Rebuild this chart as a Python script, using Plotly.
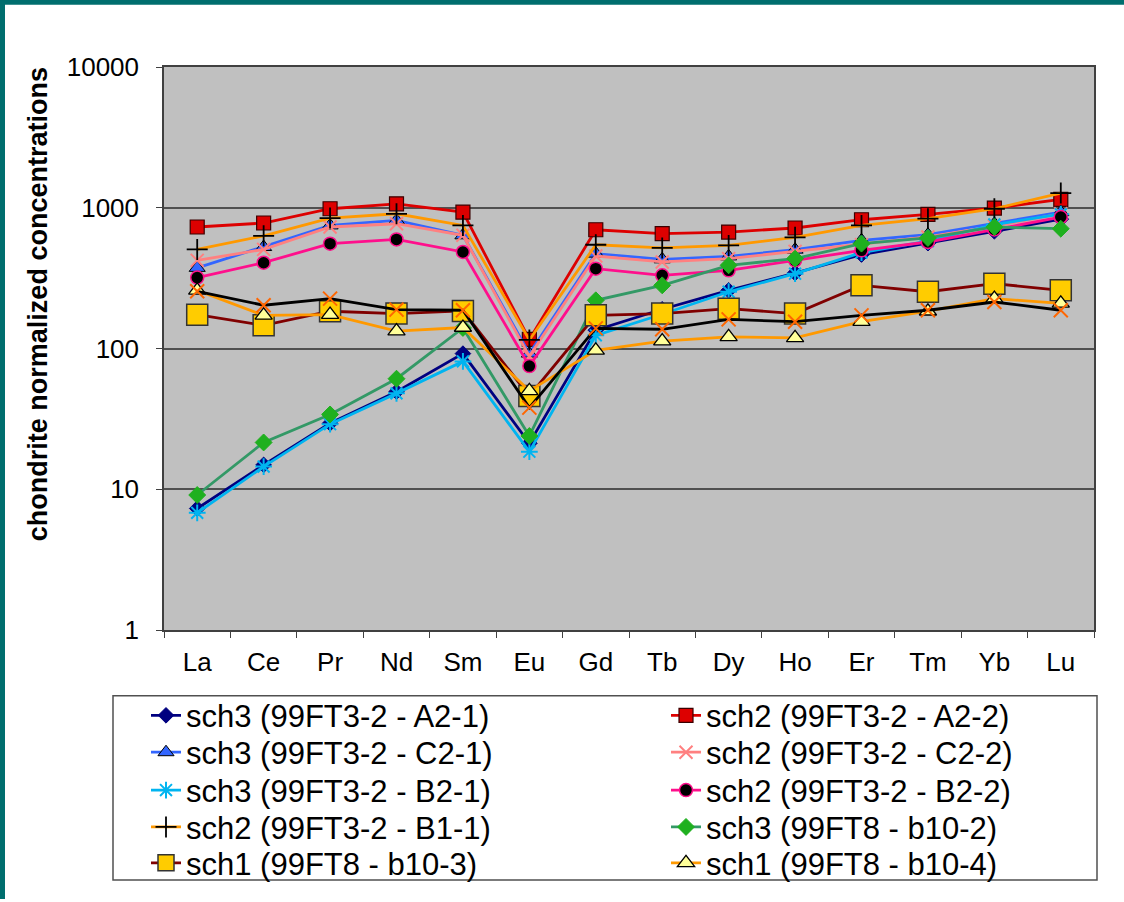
import plotly.graph_objects as go

# Rare earth elements (x axis categories)
elements = ["La", "Ce", "Pr", "Nd", "Sm", "Eu", "Gd", "Tb", "Dy", "Ho", "Er", "Tm", "Yb", "Lu"]

# Chondrite-normalized concentrations per analysis
sch3_A2_1 = [7.3, 14.9, 29.4, 49.3, 92, 21.2, 135, 190, 259, 344, 465, 560, 680, 830]
sch2_A2_2 = [730, 779, 984, 1067, 931, 116, 698, 654, 672, 718, 822, 897, 995, 1145]
sch3_C2_1 = [374, 526, 749, 813, 637, 92, 472, 430, 451, 504, 587, 644, 770, 931]
sch2_C2_2 = [423, 506, 730, 770, 637, 88, 454, 412, 435, 490, 547, 620, 740, 906]
sch3_B2_1 = [6.8, 14.5, 29, 48, 81, 18.5, 124, 175, 253, 340, 480, 580, 760, 900]
sch2_B2_2 = [319, 407, 556, 596, 485, 75, 369, 331, 359, 423, 498, 571, 702, 859]
sch2_B1_1 = [506, 632, 845, 906, 749, 115, 546, 518, 540, 616, 749, 836, 984, 1271]
sch3_b10_2 = [9.1, 21.5, 34, 61, 140, 23.9, 220, 281, 390, 435, 556, 610, 730, 710]
sch1_b10_3 = [174, 146, 184, 177, 185, 46, 172, 177, 192, 177, 281, 253, 289, 259]
sch1_b10_4 = [259, 172, 174, 133, 141, 50, 97, 113, 121, 119, 155, 184, 226, 209]
unlisted_series = [255, 203, 226, 189, 187, 38, 139, 137, 161, 155, 172, 187, 214, 187]

y_ticks = [1, 10, 100, 1000, 10000]
y_tick_labels = ["1", "10", "100", "1000", "10000"]

FONT = "Arial, Liberation Sans, sans-serif"

# Plot area in pixels (for paper-coordinate conversions of decorations)
L, R, T, B = 164, 1094, 67, 632
W, H = 1124, 902


def px_x(px):
    return (px - L) / (R - L)


def px_y(py):
    return (B - py) / (B - T)


series = [
    # name, values, line colour, symbol, size, fill, outline colour, outline width
    ("sch3 (99FT3-2 - A2-1)", sch3_A2_1, "#000080", "diamond", 12, "#000080", "#000080", 1),
    ("sch2 (99FT3-2 - A2-2)", sch2_A2_2, "#dd0000", "square", 14, "#dd0000", "#3a0000", 1.2),
    ("sch3 (99FT3-2 - C2-1)", sch3_C2_1, "#3366ff", "triangle-up", 14, "#3366ff", "#000000", 1),
    ("sch2 (99FT3-2 - C2-2)", sch2_C2_2, "#ff8080", "x-thin-open", 13, "#ff8080", "#ff8080", 2),
    ("sch3 (99FT3-2 - B2-1)", sch3_B2_1, "#00b4f0", "asterisk-open", 14, "#00b4f0", "#00b4f0", 2),
    ("sch2 (99FT3-2 - B2-2)", sch2_B2_2, "#ff0f8c", "circle", 13, "#000000", "#ff0f8c", 1.5),
    ("sch2 (99FT3-2 - B1-1)", sch2_B1_1, "#ff9900", "cross-thin-open", 15, "#000000", "#000000", 1.8),
    ("sch3 (99FT8 - b10-2)", sch3_b10_2, "#339966", "diamond", 13, "#1fb01f", "#1fb01f", 1),
    ("sch1 (99FT8 - b10-3)", sch1_b10_3, "#800000", "square", 21, "#ffcc00", "#333333", 1.5),
    ("sch1 (99FT8 - b10-4)", sch1_b10_4, "#ff9900", "triangle-up", 15, "#ffff99", "#000000", 1.3),
]

fig = go.Figure()

# Legend rows: left column holds even-indexed series, right column odd-indexed
row_py = [718, 755, 793, 830, 866]
col_px = [146, 666]
legend_layouts = {}
for i, (name, vals, lc, sym, size, fill, oc, ow) in enumerate(series):
    key = "legend" if i == 0 else f"legend{i + 1}"
    fig.add_trace(go.Scatter(
        x=elements, y=vals, name=name, mode="lines+markers",
        line=dict(color=lc, width=2.8),
        marker=dict(symbol=sym, size=size, color=fill, line=dict(color=oc, width=ow)),
        legend=key,
    ))
    legend_layouts[key] = dict(
        x=px_x(col_px[i % 2]), y=px_y(row_py[i // 2]),
        xanchor="left", yanchor="middle",
        bgcolor="rgba(0,0,0,0)", borderwidth=0,
        font=dict(family=FONT, size=31, color="#000000"),
    )

fig.add_trace(go.Scatter(
    x=elements, y=unlisted_series, mode="lines+markers", showlegend=False,
    line=dict(color="#000000", width=2.8),
    marker=dict(symbol="x-thin-open", size=14, color="#ff6600", line=dict(color="#ff6600", width=2)),
))

TEAL = "#006e6e"
shapes = [
    # legend frame
    dict(type="rect", xref="paper", yref="paper",
         x0=px_x(113), x1=px_x(1097), y0=px_y(883), y1=px_y(698),
         line=dict(color="#505050", width=1.5), fillcolor="rgba(0,0,0,0)", layer="below"),
    # teal page edge along the top and left
    dict(type="line", xref="paper", yref="paper",
         x0=px_x(0), x1=px_x(W), y0=px_y(2), y1=px_y(2),
         line=dict(color=TEAL, width=5), layer="above"),
    dict(type="line", xref="paper", yref="paper",
         x0=px_x(2.5), x1=px_x(2.5), y0=px_y(0), y1=px_y(H),
         line=dict(color=TEAL, width=5), layer="above"),
]

fig.update_layout(
    width=W, height=H,
    margin=dict(l=L, r=W - R, t=T, b=H - B),
    paper_bgcolor="#ffffff", plot_bgcolor="#c0c0c0",
    font=dict(family=FONT, size=25, color="#000000"),
    shapes=shapes,
    annotations=[dict(
        text="<b>chondrite normalized concentrations</b>",
        xref="paper", yref="paper", x=px_x(38), y=px_y(305),
        textangle=-90, showarrow=False, xanchor="center", yanchor="middle",
        font=dict(family=FONT, size=27, color="#000000"),
    )],
    xaxis=dict(
        type="category", range=[-0.5, 13.5], showgrid=False,
        showline=True, linecolor="#404040", linewidth=1.5, mirror=True,
        ticks="outside", tickson="boundaries", ticklen=6, tickcolor="#404040",
        ticklabelstandoff=8,
        tickfont=dict(family=FONT, size=26, color="#000000"),
    ),
    yaxis=dict(
        type="log", range=[0, 4], tickvals=y_ticks, ticktext=y_tick_labels,
        showgrid=True, gridcolor="#505050", gridwidth=1.5,
        showline=True, linecolor="#404040", linewidth=1.5, mirror=True,
        ticks="outside", ticklen=6, tickcolor="#404040",
        ticklabelstandoff=12,
        tickfont=dict(family=FONT, size=26, color="#000000"),
        zeroline=False,
    ),
    **legend_layouts,
)

fig.write_html("out.html")
